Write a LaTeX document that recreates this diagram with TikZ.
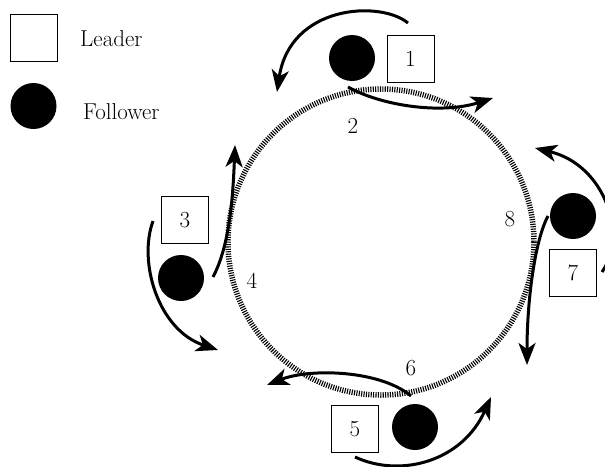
\documentclass[tikz,border=0pt]{standalone}
\usetikzlibrary{arrows.meta}
\begin{document}
\begin{tikzpicture}[x=1pt,y=-1pt,
  leader/.style={draw,line width=0.7pt,minimum size=47pt,inner sep=0pt,font=\fontsize{23}{27}\selectfont},
  follower/.style={circle,fill=black,minimum size=46pt,inner sep=0pt},
  lbl/.style={font=\fontsize{23}{27}\selectfont,inner sep=0pt},
  move/.style={line width=3pt,-{Stealth[length=22pt,width=17pt,inset=6pt]}},
  track/.style={line width=5.5pt,dash pattern=on 1.1pt off 1.3pt}]
\useasboundingbox (0,0) rectangle (605,466);
\clip (0,0) rectangle (605,466);

% legend
\node[leader] (legL) at (33.5,37.5) {};
\node[lbl,anchor=west] (legLt) at (80,39) {Leader};
\node[follower] (legF) at (33.5,106) {};
\node[lbl,anchor=west] (legFt) at (83,112) {Follower};

% circular track
\draw[track] (381,242) circle[radius=153];

% numbered track labels
\node[lbl] (n2) at (353,126) {2};
\node[lbl] (n4) at (252,281) {4};
\node[lbl] (n6) at (411,368) {6};
\node[lbl] (n8) at (510,219) {8};

% leaders and followers
\node[follower] (f1) at (352,58) {};
\node[leader] (l1) at (410.5,58.5) {1};
\node[follower] (f3) at (181,278) {};
\node[leader] (l3) at (185,220) {3};
\node[follower] (f5) at (415,427) {};
\node[leader] (l5) at (355,429) {5};
\node[follower] (f7) at (573,216) {};
\node[leader] (l7) at (573,272.5) {7};

% motion arrows
\coordinate (a1s) at (408,23);  \coordinate (a1e) at (277,92);
\coordinate (a2s) at (348,87);  \coordinate (a2e) at (493,98);
\draw[move] (a1s) .. controls (380,0) and (290,5) .. (a1e);
\draw[move] (a2s) .. controls (380,105) and (440,115) .. (a2e);

\coordinate (b1s) at (153,221); \coordinate (b1e) at (218,350);
\coordinate (b2s) at (213,277); \coordinate (b2e) at (235,145);
\draw[move] (b1s) .. controls (138,262) and (158,330) .. (b1e);
\draw[move] (b2s) .. controls (230,245) and (233,195) .. (b2e);

\coordinate (c1s) at (602,272); \coordinate (c1e) at (535,148);
\coordinate (c2s) at (548,216); \coordinate (c2e) at (527,365);
\draw[move] (c1s) .. controls (628,235) and (605,165) .. (c1e);
\draw[move] (c2s) .. controls (535,240) and (527,300) .. (c2e);

\coordinate (d1s) at (411,396); \coordinate (d1e) at (267,385);
\coordinate (d2s) at (355,457); \coordinate (d2e) at (491,397);
\draw[move] (d1s) .. controls (380,370) and (310,368) .. (d1e);
\draw[move] (d2s) .. controls (400,478) and (462,462) .. (d2e);
\end{tikzpicture}
\end{document}
